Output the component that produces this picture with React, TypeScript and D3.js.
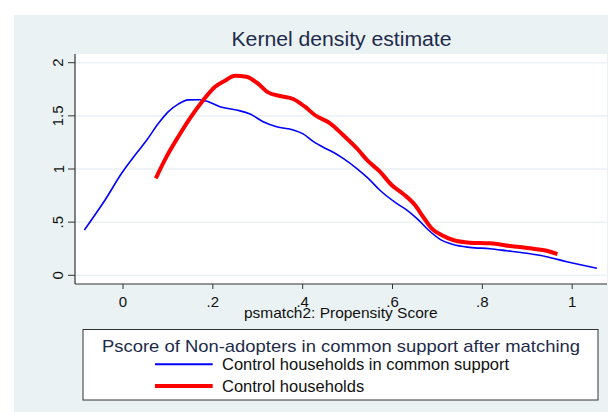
import React from 'react';
import * as d3 from 'd3';

// Kernel density curves
const supportX = [-0.086, -0.04, -0.003, 0.03, 0.053, 0.079, 0.101, 0.123, 0.145, 0.171, 0.19, 0.216, 0.253, 0.283, 0.312, 0.342, 0.379, 0.401, 0.424, 0.45, 0.468, 0.49, 0.52, 0.546, 0.572, 0.609, 0.632, 0.654, 0.68, 0.706, 0.735, 0.772, 0.817, 0.854, 0.899, 0.943, 0.988, 1.055];
const supportY = [0.426, 0.708, 0.96, 1.148, 1.273, 1.43, 1.54, 1.61, 1.65, 1.652, 1.633, 1.586, 1.555, 1.517, 1.445, 1.398, 1.367, 1.33, 1.257, 1.195, 1.157, 1.1, 1.007, 0.912, 0.8, 0.677, 0.614, 0.536, 0.426, 0.338, 0.29, 0.263, 0.25, 0.231, 0.207, 0.175, 0.128, 0.066];

const controlX = [0.073, 0.097, 0.123, 0.149, 0.179, 0.205, 0.227, 0.249, 0.275, 0.298, 0.323, 0.35, 0.379, 0.405, 0.427, 0.461, 0.49, 0.524, 0.543, 0.572, 0.598, 0.624, 0.65, 0.668, 0.687, 0.709, 0.735, 0.772, 0.817, 0.862, 0.913, 0.943, 0.967];
const controlY = [0.912, 1.116, 1.304, 1.477, 1.649, 1.774, 1.831, 1.878, 1.868, 1.812, 1.721, 1.687, 1.659, 1.586, 1.508, 1.43, 1.32, 1.179, 1.085, 0.975, 0.85, 0.765, 0.661, 0.551, 0.442, 0.379, 0.332, 0.307, 0.301, 0.276, 0.25, 0.231, 0.2];

const xTicks = [0, 0.2, 0.4, 0.6, 0.8, 1];
const xTickLabels = ['0', '.2', '.4', '.6', '.8', '1'];
const yTicks = [0, 0.5, 1, 1.5, 2];
const yTickLabels = ['0', '.5', '1', '1.5', '2'];

const legendTitle = 'Pscore of Non-adopters in common support after matching';
const seriesNames = ['Control households in common support', 'Control households'];
const seriesColors = ['#0000ff', '#ff0000'];
const seriesWidths = [1.6, 4];

const font = 'Arial, "Liberation Sans", sans-serif';

export default function App() {
  const width = 609;
  const height = 412;
  const plotLeft = 75;
  const plotRight = 607;
  const plotTop = 54;
  const plotBottom = 284;

  const x = d3.scaleLinear().domain([0, 1]).range([123, 572.2]);
  const y = d3.scaleLinear().domain([0, 2]).range([275.3, 62.7]);

  const line = d3.line<[number, number]>()
    .x(d => x(d[0]))
    .y(d => y(d[1]))
    .curve(d3.curveMonotoneX);

  const support = supportX.map((v, i) => [v, supportY[i]] as [number, number]);
  const control = controlX.map((v, i) => [v, controlY[i]] as [number, number]);
  const series = [support, control];

  return (
    <svg width={width} height={height} style={{ position: 'absolute', left: 0, top: 0 }} fontFamily={font}>
      <rect x={0} y={0} width={width} height={height} fill="#ffffff" />
      <rect x={14} y={15} width={594} height={400} fill="#eaf2f3" />
      <text x={231.5} y={45.5} fontSize={20} fill="#1e2b4a" textLength={220} lengthAdjust="spacingAndGlyphs">Kernel density estimate</text>

      <rect x={plotLeft} y={plotTop} width={plotRight - plotLeft} height={plotBottom - plotTop} fill="#ffffff" />
      {yTicks.map(t => (
        <line key={'g' + t} x1={plotLeft} x2={plotRight} y1={y(t)} y2={y(t)} stroke="#eaf2f3" strokeWidth={1.5} />
      ))}

      {series.map((s, i) => (
        <path key={i} d={line(s) || ''} fill="none" stroke={seriesColors[i]} strokeWidth={seriesWidths[i]} strokeLinejoin="round" />
      ))}

      <line x1={plotLeft} x2={plotLeft} y1={plotTop} y2={plotBottom} stroke="#333" strokeWidth={1.2} />
      <line x1={plotLeft} x2={plotRight} y1={plotBottom} y2={plotBottom} stroke="#333" strokeWidth={1.2} />

      {yTicks.map((t, i) => (
        <g key={'y' + t}>
          <line x1={68} x2={plotLeft} y1={y(t)} y2={y(t)} stroke="#333" strokeWidth={1} />
          <text x={63.5} y={y(t)} transform={`rotate(-90, 63.5, ${y(t)})`} textAnchor="middle" fontSize={15} fill="#111">{yTickLabels[i]}</text>
        </g>
      ))}
      {xTicks.map((t, i) => (
        <g key={'x' + t}>
          <line x1={x(t)} x2={x(t)} y1={plotBottom} y2={289} stroke="#333" strokeWidth={1} />
          <text x={x(t)} y={306.5} textAnchor="middle" fontSize={15} fill="#111">{xTickLabels[i]}</text>
        </g>
      ))}
      <text x={244} y={318} fontSize={15} fill="#111" textLength={193.5} lengthAdjust="spacingAndGlyphs">psmatch2: Propensity Score</text>

      <rect x={83} y={329.5} width={515} height={70.5} fill="#ffffff" stroke="#333" strokeWidth={1} />
      <text x={102} y={351.5} fontSize={17} fill="#1e2b4a" textLength={478} lengthAdjust="spacingAndGlyphs">{legendTitle}</text>
      {seriesNames.map((n, i) => (
        <g key={n}>
          <line x1={155} x2={212.7} y1={364.3 + i * 21.7} y2={364.3 + i * 21.7} stroke={seriesColors[i]} strokeWidth={seriesWidths[i] === 4 ? 4 : 2} />
          <text x={222} y={369.8 + i * 21.7} fontSize={16.5} fill="#111">{n}</text>
        </g>
      ))}
    </svg>
  );
}
